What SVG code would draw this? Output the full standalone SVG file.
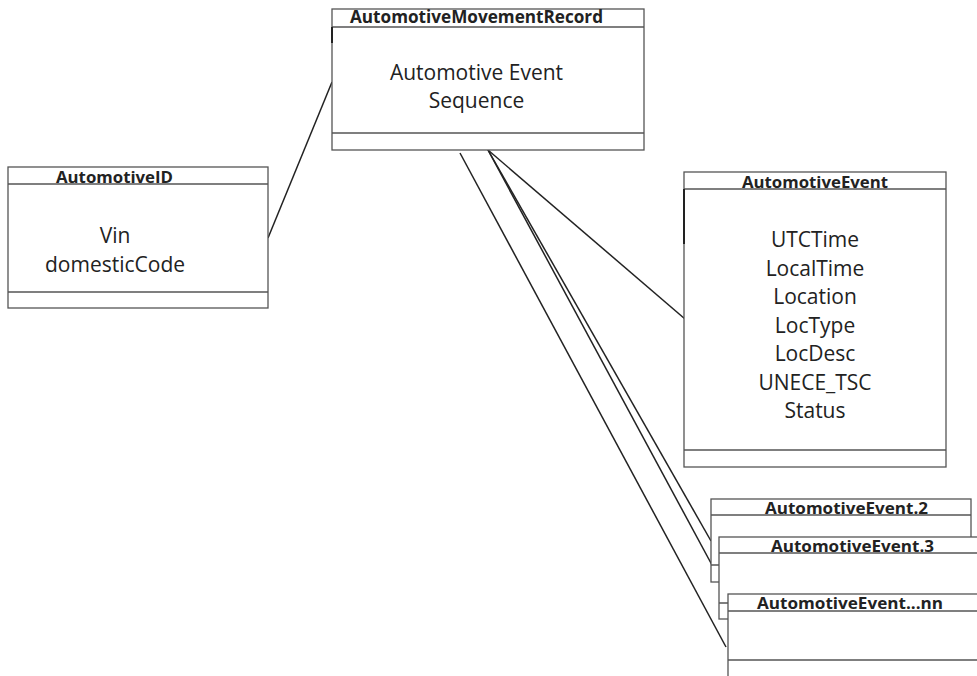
<svg xmlns="http://www.w3.org/2000/svg" width="977" height="676" viewBox="0 0 977 676">
<style>
.box{fill:#fff;stroke:#555;stroke-width:1.3}
.ln{stroke:#555;stroke-width:1.3;fill:none}
.dk{stroke:#222;stroke-width:2;fill:none}
.con{stroke:#222;stroke-width:1.5;fill:none}
.t{font-family:"Open Sans","Liberation Sans",sans-serif;font-weight:bold;font-size:16px;fill:#222;text-anchor:middle}
.b{font-family:"Open Sans","Liberation Sans",sans-serif;font-size:21px;fill:#222;text-anchor:middle}
</style>
<rect width="977" height="676" fill="#fff"/>
<g id="connectors">
<line class="con" x1="268" y1="238" x2="332" y2="82"/>
<line class="con" x1="488" y1="150" x2="685" y2="319"/>
<line class="con" x1="488" y1="150" x2="711" y2="541"/>
<line class="con" x1="488" y1="150" x2="719" y2="578"/>
<line class="con" x1="460" y1="153" x2="726" y2="647"/>
</g>
<g id="movementRecord">
<rect class="box" x="332" y="9" width="312" height="141"/>
<line class="ln" x1="332" y1="27" x2="644" y2="27"/>
<line class="ln" x1="332" y1="133" x2="644" y2="133"/>
<line class="dk" x1="332" y1="27" x2="332" y2="43"/>
<text class="t" x="476.5" y="22.5" style="font-size:17.5px" textLength="253" lengthAdjust="spacingAndGlyphs">AutomotiveMovementRecord</text>
<text class="b" x="476.5" y="80">Automotive Event</text>
<text class="b" x="476.5" y="108">Sequence</text>
</g>
<g id="automotiveID">
<rect class="box" x="8" y="167" width="260" height="141"/>
<line class="ln" x1="8" y1="184" x2="268" y2="184"/>
<line class="ln" x1="8" y1="292" x2="268" y2="292"/>
<text class="t" x="114.5" y="183" textLength="117" lengthAdjust="spacingAndGlyphs">AutomotiveID</text>
<text class="b" x="115" y="243">Vin</text>
<text class="b" x="115" y="272">domesticCode</text>
</g>
<g id="automotiveEvent">
<rect class="box" x="684" y="172" width="262" height="295"/>
<line class="ln" x1="684" y1="189" x2="946" y2="189"/>
<line class="ln" x1="684" y1="450" x2="946" y2="450"/>
<line class="dk" x1="684" y1="189" x2="684" y2="244"/>
<text class="t" x="815" y="188" textLength="146" lengthAdjust="spacingAndGlyphs">AutomotiveEvent</text>
<text class="b" x="815" y="247">UTCTime</text>
<text class="b" x="815" y="275.5">LocalTime</text>
<text class="b" x="815" y="304">Location</text>
<text class="b" x="815" y="332.5">LocType</text>
<text class="b" x="815" y="361">LocDesc</text>
<text class="b" x="815" y="389.5">UNECE_TSC</text>
<text class="b" x="815" y="418">Status</text>
</g>
<g id="automotiveEvent2">
<rect class="box" x="711" y="499" width="260" height="83"/>
<line class="ln" x1="711" y1="515" x2="971" y2="515"/>
<line class="ln" x1="711" y1="565" x2="971" y2="565"/>
<text class="t" x="846.5" y="513.5" textLength="163" lengthAdjust="spacingAndGlyphs">AutomotiveEvent.2</text>
</g>
<g id="automotiveEvent3">
<rect class="box" x="719" y="537" width="270" height="82"/>
<line class="ln" x1="719" y1="553" x2="989" y2="553"/>
<line class="ln" x1="719" y1="603" x2="989" y2="603"/>
<text class="t" x="852.5" y="551.5" textLength="163" lengthAdjust="spacingAndGlyphs">AutomotiveEvent.3</text>
</g>
<g id="automotiveEventNN">
<rect class="box" x="728" y="594" width="260" height="100"/>
<line class="ln" x1="728" y1="611" x2="988" y2="611"/>
<line class="ln" x1="728" y1="660" x2="988" y2="660"/>
<text class="t" x="850" y="609" textLength="186" lengthAdjust="spacingAndGlyphs">AutomotiveEvent...nn</text>
</g>
</svg>
